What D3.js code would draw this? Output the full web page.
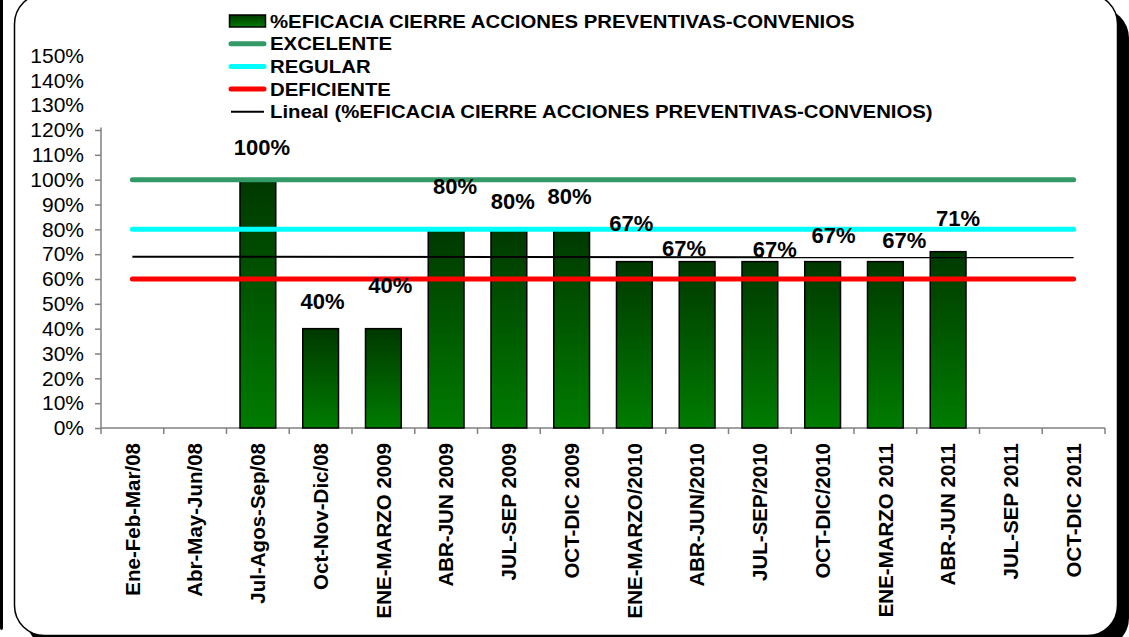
<!DOCTYPE html>
<html>
<head>
<meta charset="utf-8">
<script src="https://cdn.jsdelivr.net/npm/d3@7/dist/d3.min.js"></script>
<style>
  body { margin: 0; background: #fff; }
  svg { display: block; font-family: "Liberation Sans", Arial, sans-serif; }
</style>
</head>
<body>
<svg width="1129" height="637"></svg>
<script>
// periodos (eje X)
var categorias = ["Ene-Feb-Mar/08", "Abr-May-Jun/08", "Jul-Agos-Sep/08", "Oct-Nov-Dic/08",
  "ENE-MARZO 2009", "ABR-JUN 2009", "JUL-SEP 2009", "OCT-DIC 2009",
  "ENE-MARZO/2010", "ABR-JUN/2010", "JUL-SEP/2010", "OCT-DIC/2010",
  "ENE-MARZO 2011", "ABR-JUN 2011", "JUL-SEP 2011", "OCT-DIC 2011"];
// %eficacia cierre acciones preventivas (null = sin dato)
var eficacia = [null, null, 1.00, 0.40, 0.40, 0.80, 0.80, 0.80, 0.67, 0.67, 0.67, 0.67, 0.67, 0.71, null, null];
var etiquetas = ["", "", "100%", "40%", "40%", "80%", "80%", "80%", "67%", "67%", "67%", "67%", "67%", "71%", "", ""];
// metas
var excelente = 1.00, regular = 0.80, deficiente = 0.60;
var yTicks = [0, 0.1, 0.2, 0.3, 0.4, 0.5, 0.6, 0.7, 0.8, 0.9, 1.0, 1.1, 1.2, 1.3, 1.4, 1.5];

// desplazamiento manual de las etiquetas (como estaban movidas en el excel)
var nudge = [[0,0],[0,0],[4,-25],[2,-20],[7,-36],[9,-35],[4,-20],[-2,-25],
  [-3,-31],[-13,-6],[15,-5],[11,-19],[19,-14],[10,-26],[0,0],[0,0]];

var svg = d3.select("svg");

// marco con sombra
svg.append("rect").attr("x", 0).attr("y", -20).attr("width", 3).attr("height", 650)
  .attr("rx", 2).attr("fill", "#000");
svg.append("rect").attr("x", 26).attr("y", 8).attr("width", 1103).attr("height", 640)
  .attr("rx", 30).attr("fill", "#000");
svg.append("rect").attr("x", 14.5).attr("y", -6).attr("width", 1103).attr("height", 641.5)
  .attr("rx", 30).attr("fill", "#fff").attr("stroke", "#000").attr("stroke-width", 1.5);

var mLeft = 101, mRight = 1105, mBottom = 428, mTop = 55.5;

var x = d3.scaleBand().domain(categorias).range([mLeft, mRight])
  .paddingInner(0.43).paddingOuter(0.215);
var y = d3.scaleLinear().domain([0, 1.5]).range([mBottom, mTop]);

var defs = svg.append("defs");
var grad = defs.append("linearGradient").attr("id", "verde")
  .attr("x1", 0).attr("y1", 0).attr("x2", 0).attr("y2", 1);
grad.append("stop").attr("offset", "0%").attr("stop-color", "#003800");
grad.append("stop").attr("offset", "100%").attr("stop-color", "#007c00");

// eje Y
var gy = svg.append("g").attr("transform", "translate(" + mLeft + ",0)")
  .call(d3.axisLeft(y).tickValues(yTicks).tickSize(6).tickPadding(11)
    .tickFormat(d3.format(".0%")));
gy.select(".domain").remove();
gy.selectAll(".tick line").attr("stroke", "#808080").attr("stroke-width", 1.5)
  .attr("display", function(d) { return d > 1.2 ? "none" : null; });
gy.selectAll(".tick text").attr("font-size", 21).attr("fill", "#000")
  .attr("font-family", "Liberation Sans, Arial, sans-serif");
gy.append("line").attr("x1", 0).attr("x2", 0).attr("y1", y(1.21)).attr("y2", mBottom)
  .attr("stroke", "#808080").attr("stroke-width", 1.5);

// eje X
var gx = svg.append("g").attr("transform", "translate(0," + mBottom + ")")
  .call(d3.axisBottom(x).tickSize(0).tickPadding(0));
gx.select(".domain").remove();
gx.selectAll(".tick text")
  .attr("transform", "rotate(-90)")
  .attr("x", -15).attr("y", 0).attr("dy", "0.35em")
  .attr("text-anchor", "end")
  .attr("font-size", 20.5).attr("font-weight", "bold").attr("fill", "#000")
  .attr("font-family", "Liberation Sans, Arial, sans-serif");
gx.append("line").attr("x1", mLeft).attr("x2", mRight).attr("y1", 0).attr("y2", 0)
  .attr("stroke", "#808080").attr("stroke-width", 1.5);
d3.range(categorias.length + 1).forEach(function(i) {
  var px = mLeft + i * x.step();
  gx.append("line").attr("x1", px).attr("x2", px).attr("y1", 0).attr("y2", 6)
    .attr("stroke", "#808080").attr("stroke-width", 1.5);
});

// barras
var datos = categorias.map(function(c, i) {
  return { cat: c, i: i, v: eficacia[i], label: etiquetas[i] };
}).filter(function(d) { return d.v != null; });

svg.selectAll(".bar").data(datos).enter().append("rect")
  .attr("class", "bar")
  .attr("x", function(d) { return x(d.cat); })
  .attr("width", x.bandwidth())
  .attr("y", function(d) { return y(d.v); })
  .attr("height", function(d) { return mBottom - y(d.v); })
  .attr("fill", "url(#verde)")
  .attr("stroke", "#000").attr("stroke-width", 1.5);

// lineas de meta
var x0 = x(categorias[0]) + x.bandwidth() / 2;
var x1 = x(categorias[categorias.length - 1]) + x.bandwidth() / 2;
[[excelente, "#339966"], [regular, "#00ffff"], [deficiente, "#ff0000"]].forEach(function(m) {
  svg.append("line").attr("x1", x0).attr("x2", x1)
    .attr("y1", y(m[0])).attr("y2", y(m[0]))
    .attr("stroke", m[1]).attr("stroke-width", 5).attr("stroke-linecap", "round");
});

// tendencia lineal (minimos cuadrados sobre los puntos con dato)
var mx = d3.mean(datos, function(d) { return d.i; });
var my = d3.mean(datos, function(d) { return d.v; });
var pend = d3.sum(datos, function(d) { return (d.i - mx) * (d.v - my); }) /
  d3.sum(datos, function(d) { return (d.i - mx) * (d.i - mx); });
var tend = function(i) { return my + pend * (i - mx); };
svg.append("line").attr("x1", x0).attr("x2", x1)
  .attr("y1", y(tend(0))).attr("y2", y(tend(categorias.length - 1)))
  .attr("stroke", "#000").attr("stroke-width", 2);

// etiquetas de datos
svg.selectAll(".lbl").data(datos).enter().append("text")
  .attr("class", "lbl")
  .attr("x", function(d) { return x(d.cat) + x.bandwidth() / 2 + nudge[d.i][0]; })
  .attr("y", function(d) { return y(d.v) + nudge[d.i][1]; })
  .attr("text-anchor", "middle")
  .attr("font-size", 22).attr("font-weight", "bold")
  .text(function(d) { return d.label; });

// leyenda
var leyenda = [
  { t: "%EFICACIA CIERRE ACCIONES PREVENTIVAS-CONVENIOS", tipo: "bar" },
  { t: "EXCELENTE", tipo: "line", c: "#339966", w: 5 },
  { t: "REGULAR", tipo: "line", c: "#00ffff", w: 5 },
  { t: "DEFICIENTE", tipo: "line", c: "#ff0000", w: 5 },
  { t: "Lineal (%EFICACIA CIERRE ACCIONES PREVENTIVAS-CONVENIOS)", tipo: "line", c: "#000", w: 2 }
];
var lg = svg.append("g").attr("transform", "translate(229,21)");
leyenda.forEach(function(d, i) {
  var row = lg.append("g").attr("transform", "translate(0," + (i * 22.7) + ")");
  if (d.tipo == "bar") {
    row.append("rect").attr("x", 0.5).attr("y", -6).attr("width", 36).attr("height", 12)
      .attr("fill", "url(#verde)").attr("stroke", "#000").attr("stroke-width", 1.5);
  } else {
    row.append("line").attr("x1", 2).attr("x2", 35).attr("y1", 0).attr("y2", 0)
      .attr("stroke", d.c).attr("stroke-width", d.w)
      .attr("stroke-linecap", d.w > 2 ? "round" : "butt");
  }
  row.append("text").attr("transform", "translate(41,6.5) scale(1.1,1)")
    .attr("font-size", 18.5).attr("font-weight", "bold")
    .text(d.t);
});
</script>
</body>
</html>
